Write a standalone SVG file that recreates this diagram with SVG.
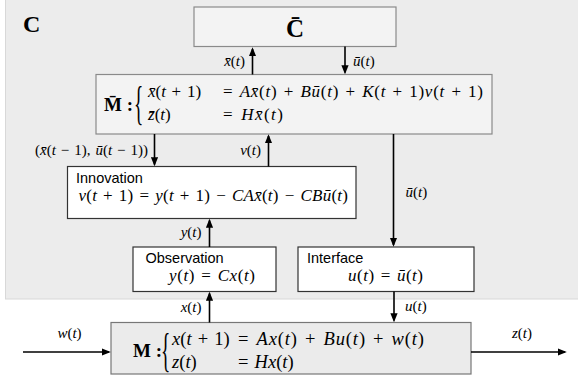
<svg xmlns="http://www.w3.org/2000/svg" width="578" height="382" viewBox="0 0 578 382">
<defs>
<marker id="ah" viewBox="0 0 10 8" refX="8" refY="4" markerWidth="9" markerHeight="7.2" markerUnits="userSpaceOnUse" orient="auto">
<path d="M0,0 L10,4 L0,8 z" fill="#000"/>
</marker>
<style>
.bg{fill:#ececec;stroke:#d8d8d8;stroke-width:1}
.bxg{fill:#f3f3f3;stroke:#8a8a8a;stroke-width:1.2}
.bxw{fill:#ffffff;stroke:#333;stroke-width:1.2}
.bxm{fill:#ebebeb;stroke:#777;stroke-width:1.2}
.conn line{stroke:#000;stroke-width:1.6;fill:none;marker-end:url(#ah)}
text{font-family:"Liberation Serif","DejaVu Serif",serif;fill:#000}
.eq{font-size:17px}
.eqm{font-size:18.5px}
.lbl{font-size:15px}
.i{font-style:italic}
.b{font-weight:bold}
.sans{font-family:"Liberation Sans",Arial,sans-serif;font-size:14.5px}
.brace{font-size:46px}
</style>
</defs>

<rect class="bg" x="5.5" y="-1" width="575" height="300"/>
<text class="b" x="23" y="32" font-size="24">C</text>

<g id="Cbar">
<rect class="bxg" x="194" y="7" width="202" height="39.5"/>
<text class="b" x="295" y="37" font-size="25" text-anchor="middle">C&#x304;</text>
</g>

<g id="Mbar">
<rect class="bxg" x="96" y="74.5" width="396" height="59.5"/>
<text class="b" x="104" y="111" font-size="19">M&#x304; :</text>
<text class="brace" transform="translate(134,119) scale(0.42,1)" x="0" y="0">{</text>
<text class="eq" x="148" y="97"><tspan class="i">x&#x304;</tspan>(<tspan class="i">t</tspan>&#x2004;+&#x2004;1)</text>
<text class="eq" x="223" y="97" textLength="260">=&#x2004;<tspan class="i">Ax&#x304;</tspan>(<tspan class="i">t</tspan>)&#x2004;+&#x2004;<tspan class="i">B&#x16B;</tspan>(<tspan class="i">t</tspan>)&#x2004;+&#x2004;<tspan class="i">K</tspan>(<tspan class="i">t</tspan>&#x2004;+&#x2004;1)<tspan class="i">v</tspan>(<tspan class="i">t</tspan>&#x2004;+&#x2004;1)</text>
<text class="eq" x="148" y="120"><tspan class="i">z&#x304;</tspan>(<tspan class="i">t</tspan>)</text>
<text class="eq" x="223" y="120" textLength="60">=&#x2004;<tspan class="i">Hx&#x304;</tspan>(<tspan class="i">t</tspan>)</text>
</g>

<g id="Innovation">
<rect class="bxw" x="67.5" y="166.5" width="288.5" height="52"/>
<text class="sans" x="76" y="182.5">Innovation</text>
<text class="eq" x="78.5" y="201" textLength="269.5"><tspan class="i">v</tspan>(<tspan class="i">t</tspan>&#x2004;+&#x2004;1)&#x2004;=&#x2004;<tspan class="i">y</tspan>(<tspan class="i">t</tspan>&#x2004;+&#x2004;1)&#x2004;−&#x2004;<tspan class="i">CAx&#x304;</tspan>(<tspan class="i">t</tspan>)&#x2004;−&#x2004;<tspan class="i">CB&#x16B;</tspan>(<tspan class="i">t</tspan>)</text>
</g>

<g id="Observation">
<rect class="bxw" x="133" y="247" width="143" height="44.5"/>
<text class="sans" x="145.5" y="262.5">Observation</text>
<text class="eq" x="169" y="281" textLength="86"><tspan class="i">y</tspan>(<tspan class="i">t</tspan>)&#x2004;=&#x2004;<tspan class="i">Cx</tspan>(<tspan class="i">t</tspan>)</text>
</g>

<g id="Interface">
<rect class="bxw" x="298" y="247" width="176" height="44.5"/>
<text class="sans" x="307" y="262.5">Interface</text>
<text class="eq" x="348" y="281" textLength="75"><tspan class="i">u</tspan>(<tspan class="i">t</tspan>)&#x2004;=&#x2004;<tspan class="i">&#x16B;</tspan>(<tspan class="i">t</tspan>)</text>
</g>

<g id="M">
<rect class="bxm" x="111" y="322.5" width="360" height="51.5"/>
<text class="b" x="133" y="357" font-size="19">M :</text>
<text class="brace" transform="translate(161,366) scale(0.42,1)" x="0" y="0">{</text>
<text class="eqm" x="172" y="345"><tspan class="i">x</tspan>(<tspan class="i">t</tspan>&#x2004;+&#x2004;1)</text>
<text class="eqm" x="238" y="345" textLength="186">=&#x2004;<tspan class="i">Ax</tspan>(<tspan class="i">t</tspan>)&#x2004;+&#x2004;<tspan class="i">Bu</tspan>(<tspan class="i">t</tspan>)&#x2004;+&#x2004;<tspan class="i">w</tspan>(<tspan class="i">t</tspan>)</text>
<text class="eqm" x="172" y="368"><tspan class="i">z</tspan>(<tspan class="i">t</tspan>)</text>
<text class="eqm" x="238" y="368">=&#x2004;<tspan class="i">Hx</tspan>(<tspan class="i">t</tspan>)</text>
</g>

<g id="connectors" class="conn">
<line x1="252.5" y1="74.5" x2="252.5" y2="49"/>
<line x1="345" y1="46.5" x2="345" y2="72.5"/>
<line x1="154.5" y1="134" x2="154.5" y2="164.5"/>
<line x1="268.5" y1="166.5" x2="268.5" y2="136"/>
<line x1="393.5" y1="134" x2="393.5" y2="245"/>
<line x1="209.5" y1="247" x2="209.5" y2="220.5"/>
<line x1="209.5" y1="322.5" x2="209.5" y2="293.5"/>
<line x1="394" y1="291.5" x2="394" y2="320.5"/>
<line x1="23" y1="352" x2="109" y2="352"/>
<line x1="471" y1="352" x2="565" y2="352"/>
</g>

<g id="labels">
<text class="lbl" x="245" y="66" text-anchor="end"><tspan class="i">x&#x304;</tspan>(<tspan class="i">t</tspan>)</text>
<text class="lbl" x="353" y="66"><tspan class="i">&#x16B;</tspan>(<tspan class="i">t</tspan>)</text>
<text class="lbl" x="35" y="155" textLength="113">(<tspan class="i">x&#x304;</tspan>(<tspan class="i">t</tspan>&#x2004;−&#x2004;1),&#x2004;<tspan class="i">&#x16B;</tspan>(<tspan class="i">t</tspan>&#x2004;−&#x2004;1))</text>
<text class="lbl" x="261" y="155" text-anchor="end"><tspan class="i">v</tspan>(<tspan class="i">t</tspan>)</text>
<text class="lbl" x="405.5" y="197"><tspan class="i">&#x16B;</tspan>(<tspan class="i">t</tspan>)</text>
<text class="lbl" x="201.5" y="237" text-anchor="end"><tspan class="i">y</tspan>(<tspan class="i">t</tspan>)</text>
<text class="lbl" x="201.5" y="312" text-anchor="end"><tspan class="i">x</tspan>(<tspan class="i">t</tspan>)</text>
<text class="lbl" x="405" y="311"><tspan class="i">u</tspan>(<tspan class="i">t</tspan>)</text>
<text class="lbl" x="69.5" y="338" text-anchor="middle"><tspan class="i">w</tspan>(<tspan class="i">t</tspan>)</text>
<text class="lbl" x="522" y="338" text-anchor="middle"><tspan class="i">z</tspan>(<tspan class="i">t</tspan>)</text>
</g>
</svg>
